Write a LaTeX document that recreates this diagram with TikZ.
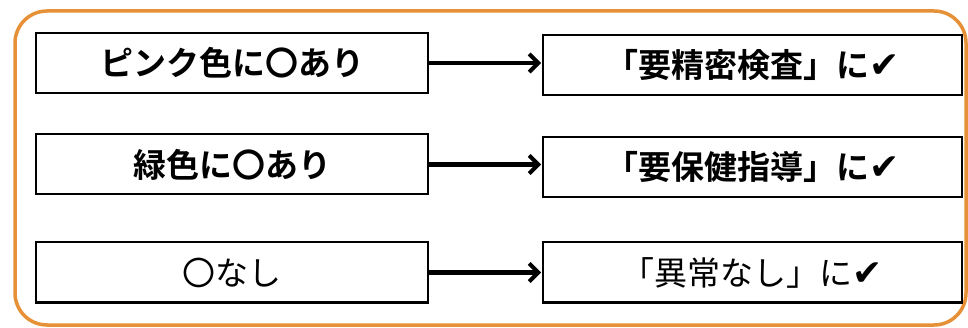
\documentclass[tikz,border=0pt]{standalone}
\usepackage{fontspec}
\usetikzlibrary{arrows.meta}
\newfontfamily\jp{Noto Sans CJK JP}
\newfontfamily\jpb{Noto Sans CJK JP Bold}
\newfontfamily\sym{DejaVu Sans}
\definecolor{frameorange}{RGB}{230,145,55}
\tikzset{
  box/.style={draw=black, line width=2pt, fill=white, minimum height=60pt, inner sep=0pt},
  leftbox/.style={box, minimum width=392pt},
  rightbox/.style={box, minimum width=419pt},
  conn/.style={line width=4.5pt, -{Straight Barb[length=9pt,width=18pt,line width=4pt]}, shorten >=1pt},
  jreg/.style={font=\jp\fontsize{33}{33}\selectfont},
  jbold/.style={font=\jpb\fontsize{33}{33}\selectfont}
}
\newcommand{\chk}{{\sym\fontsize{36}{36}\selectfont ✔}}
\begin{document}
\begin{tikzpicture}[x=1pt,y=-1pt]
\useasboundingbox (0,0) rectangle (968,328);
\fill[white] (0,0) rectangle (968,328);
\draw[frameorange, line width=3.5pt, rounded corners=32pt] (15,11) rectangle (966,325);

\node[leftbox, jbold] (l1) at (232,63) {ピンク色に〇あり};
\node[leftbox, jbold] (l2) at (232,164.5) {緑色に〇あり};
\node[leftbox, jreg] (l3) at (232,272.5) {〇なし};

\node[rightbox, jbold] (r1) at (752.5,65) {「要精密検査」に\chk};
\node[rightbox, jbold] (r2) at (752.5,167) {「要保健指導」に\chk};
\node[rightbox, jreg] (r3) at (752.5,272.5) {「異常なし」に\chk};

\draw[conn] (l1.east) -- (l1.east -| r1.west);
\draw[conn] (l2.east) -- (l2.east -| r2.west);
\draw[conn] (l3.east) -- (l3.east -| r3.west);
\end{tikzpicture}
\end{document}
